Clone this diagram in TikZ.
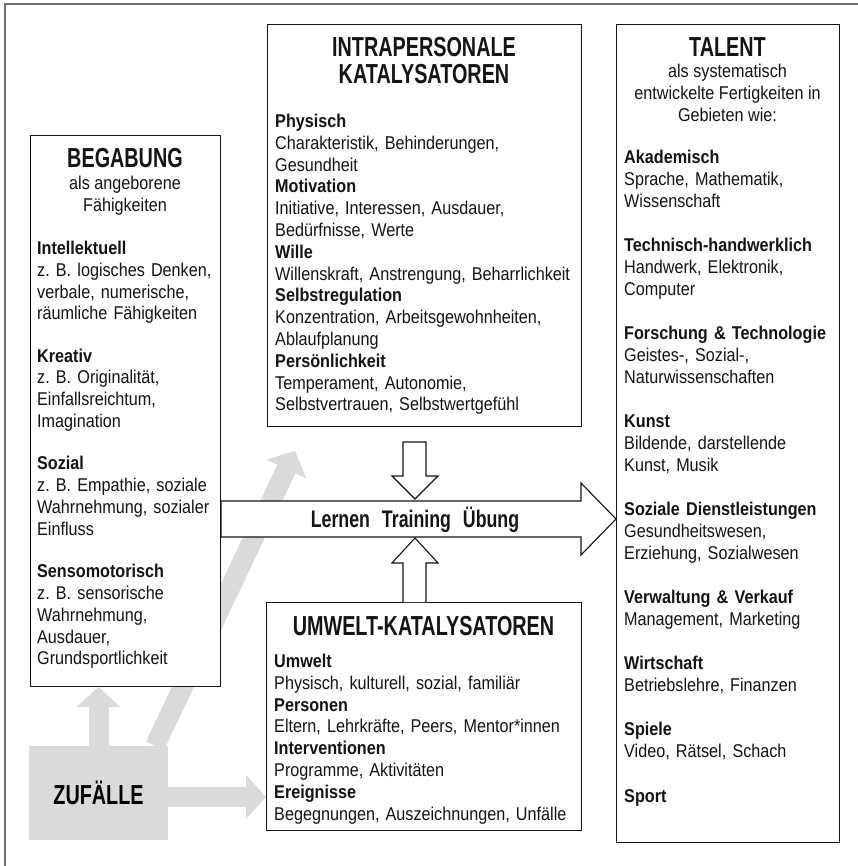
\documentclass[tikz,border=0pt]{standalone}
\usepackage{fontspec}
\setmainfont{Liberation Sans}[FakeStretch=0.875]
\newfontfamily\headfont{Liberation Sans}[FakeStretch=0.72]
\newfontfamily\flowfont{Liberation Sans}[FakeStretch=0.74]
\usetikzlibrary{arrows.meta,calc,backgrounds}
\frenchspacing

\definecolor{framegray}{RGB}{110,110,110}
\definecolor{chancegray}{RGB}{218,218,218}
\definecolor{ink}{RGB}{20,20,20}

\tikzset{
  panel/.style={draw=ink, line width=1.1pt, fill=white, inner sep=0pt, anchor=north west},
  chancebox/.style={fill=chancegray, draw=none, inner sep=0pt,
    font=\headfont\bfseries\fontsize{27.5}{28}\selectfont},
  headline/.style={font=\headfont\bfseries\fontsize{27.5}{27}\selectfont, text=ink,
    inner sep=0pt, anchor=base, align=center},
  subline/.style={font=\fontsize{18.5}{21.8}\selectfont, text=ink, inner sep=0pt,
    anchor=base, align=center},
  bodytext/.style={font=\fontsize{18.5}{21.8}\selectfont, text=ink, inner sep=0pt,
    anchor=base west, text width=#1, align=left},
  chancearrow/.style={draw=chancegray, line width=20pt,
    -{Triangle[length=20pt,width=43pt]}},
  blockarrow/.style={draw=ink, line width=1.1pt, fill=white, line join=miter},
  flowlabel/.style={font=\flowfont\bfseries\fontsize{24}{24}\selectfont, text=ink,
    inner sep=0pt, anchor=base}
}

% vertical gaps between the groups of a list
\newcommand{\ggap}{\\[20.5pt]}
\newcommand{\tgap}{\\[22.6pt]}

\begin{document}
\begin{tikzpicture}[x=1pt, y=-1pt]
\useasboundingbox (0,0) rectangle (857,866);

% outer frame
\draw[framegray, line width=1.2pt] (5,870) -- (5,4) -- (860,4);

% chance box
\node[chancebox, minimum width=139pt, minimum height=94pt] (zufaelle) at (98.5,793) {ZUFÄLLE};

% panels (empty frames, their texts are set separately)
\node[panel, minimum width=190pt, minimum height=551pt] (begabung) at (30,135) {};
\node[panel, minimum width=314pt, minimum height=402pt] (intra) at (267,24) {};
\node[panel, minimum width=223pt, minimum height=818pt] (talent) at (616,24) {};
\node[panel, minimum width=315pt, minimum height=228pt] (umwelt) at (266,602) {};

% grey influence arrows from chance, behind everything else
\coordinate (intratarget) at (295,451);
\coordinate (zstart) at ($(zufaelle.north west)!0.905!(zufaelle.north east)$);
\coordinate (zright) at ($(zufaelle.east)+(0,4)$);
\begin{scope}[on background layer]
  \draw[chancearrow] (zufaelle.north) -- (zufaelle.north |- begabung.south);
  \draw[chancearrow] (zright) -- (umwelt.west |- zright);
  \draw[chancearrow] (zstart) -- (intratarget);
\end{scope}

% main developmental arrow
\coordinate (flowA) at (begabung.east |- 0,501);
\coordinate (flowB) at (begabung.east |- 0,537);
\draw[blockarrow] (flowA) -- (581,501) -- (581,483) -- (talent.west |- 0,519)
  -- (581,555) -- (581,537) -- (flowB) -- cycle;

% catalyst arrows
\draw[blockarrow] (403,442) -- (426,442) -- (426,476) -- (438,476) -- (415,499)
  -- (392,476) -- (403,476) -- cycle;
\draw[blockarrow] (403,602) -- (403,563) -- (392,563) -- (415,538) -- (438,563)
  -- (426,563) -- (426,602);

\node[flowlabel] (flow) at (415,527.5) {Lernen\hspace{7pt} Training\hspace{7pt} Übung};

% ---- BEGABUNG
\node[headline] (begtitle) at (125,168) {BEGABUNG};
\node[subline] (begsub) at (125,211.5) {als angeborene\\Fähigkeiten};
\node[bodytext=180pt] (begbody) at (37,254.5) {%
\textbf{Intellektuell}\\
z. B. logisches Denken,\\
verbale, numerische,\\
räumliche Fähigkeiten\ggap
\textbf{Kreativ}\\
z. B. Originalität,\\
Einfallsreichtum,\\
Imagination\ggap
\textbf{Sozial}\\
z. B. Empathie, soziale\\
Wahrnehmung, sozialer\\
Einfluss\ggap
\textbf{Sensomotorisch}\\
z. B. sensorische\\
Wahrnehmung,\\
Ausdauer,\\
Grundsportlichkeit};

% ---- intrapersonal catalysts
\node[headline] (intratitle) at (424,84) {INTRAPERSONALE\\KATALYSATOREN};
\node[bodytext=300pt] (intrabody) at (275,127.5) {%
\textbf{Physisch}\\
Charakteristik, Behinderungen,\\
Gesundheit\\
\textbf{Motivation}\\
Initiative, Interessen, Ausdauer,\\
Bedürfnisse, Werte\\
\textbf{Wille}\\
Willenskraft, Anstrengung, Beharrlichkeit\\
\textbf{Selbstregulation}\\
Konzentration, Arbeitsgewohnheiten,\\
Ablaufplanung\\
\textbf{Persönlichkeit}\\
Temperament, Autonomie,\\
Selbstvertrauen, Selbstwertgefühl};

% ---- environmental catalysts
\node[headline] (umwelttitle) at (423.5,635) {UMWELT-KATALYSATOREN};
\node[bodytext=305pt] (umweltbody) at (274,667.5) {%
\textbf{Umwelt}\\
Physisch, kulturell, sozial, familiär\\
\textbf{Personen}\\
Eltern, Lehrkräfte, Peers, Mentor*innen\\
\textbf{Interventionen}\\
Programme, Aktivitäten\\
\textbf{Ereignisse}\\
Begegnungen, Auszeichnungen, Unfälle};

% ---- TALENT
\node[headline] (taltitle) at (727.5,57) {TALENT};
\node[subline] (talsub) at (727.5,121.5) {als systematisch\\entwickelte Fertigkeiten in\\Gebieten wie:};
\node[bodytext=210pt] (talbody) at (624,163.5) {%
\textbf{Akademisch}\\
Sprache, Mathematik,\\
Wissenschaft\tgap
\textbf{Technisch-handwerklich}\\
Handwerk, Elektronik,\\
Computer\tgap
\textbf{Forschung \& Technologie}\\
Geistes-, Sozial-,\\
Naturwissenschaften\tgap
\textbf{Kunst}\\
Bildende, darstellende\\
Kunst, Musik\tgap
\textbf{Soziale Dienstleistungen}\\
Gesundheitswesen,\\
Erziehung, Sozialwesen\tgap
\textbf{Verwaltung \& Verkauf}\\
Management, Marketing\tgap
\textbf{Wirtschaft}\\
Betriebslehre, Finanzen\tgap
\textbf{Spiele}\\
Video, Rätsel, Schach\tgap
\textbf{Sport}};
\end{tikzpicture}
\end{document}
